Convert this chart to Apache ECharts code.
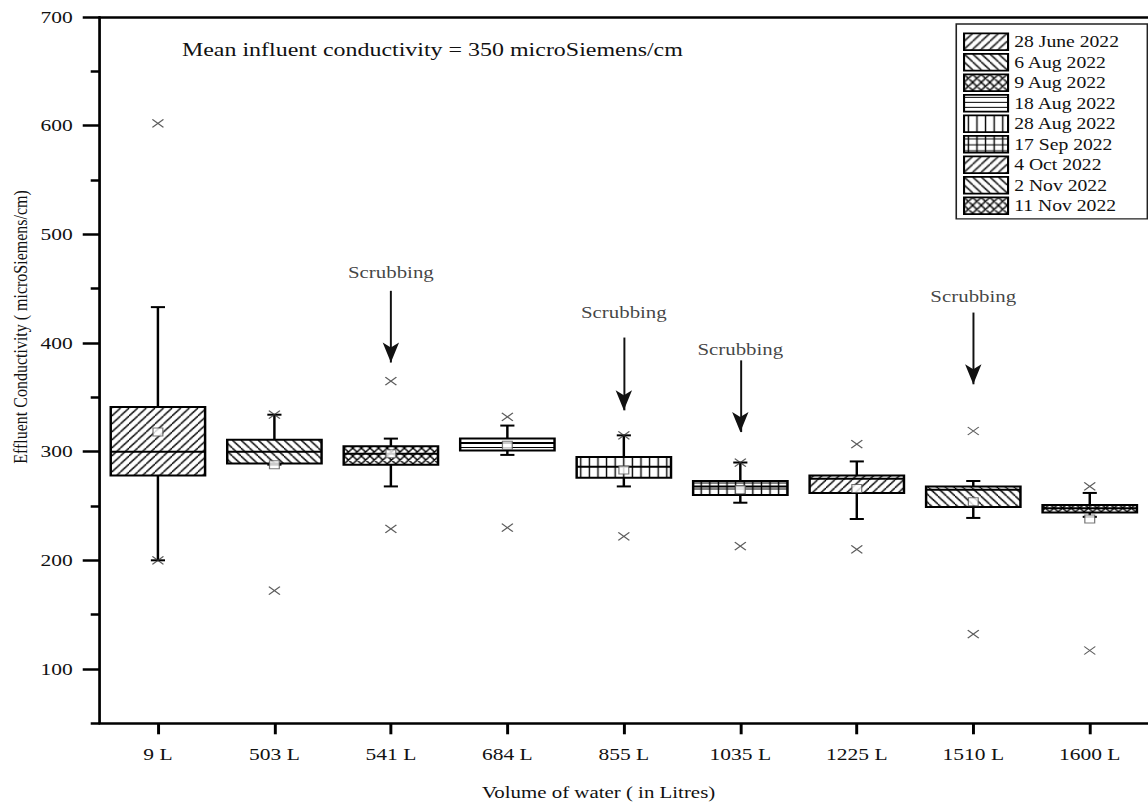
<!DOCTYPE html>
<html><head><meta charset="utf-8">
<script src="https://cdn.jsdelivr.net/npm/echarts@6/dist/echarts.min.js"></script>
<style>
html,body{margin:0;padding:0;overflow:hidden;background:#fff;}
#chart{width:934px;height:805px;transform:scaleX(1.22912);transform-origin:0 0;}
</style></head><body><div id="chart"></div>
<script>
// ---- data ----
const categories = ['9 L','503 L','541 L','684 L','855 L','1035 L','1225 L','1510 L','1600 L'];
const dates = ['28 June 2022','6 Aug 2022','9 Aug 2022','18 Aug 2022','28 Aug 2022','17 Sep 2022','4 Oct 2022','2 Nov 2022','11 Nov 2022'];
const whiskerLow  = [200, 288, 268, 297, 268, 253, 238, 239, 240];
const q1          = [278, 289, 288, 301, 276, 260, 262, 249, 244];
const median      = [300, 300, 298, 308, 286, 268, 275, 265, 248];
const q3          = [341, 311, 305, 312, 295, 273, 278, 268, 251];
const whiskerHigh = [433, 334, 312, 324, 315, 290, 291, 273, 262];
const meanValues  = [318, 288, 298, 306, 283, 265, 266, 254, 238];
const maxMarkers  = [602, 334, 365, 332, 315, 290, 307, 319, 268];
const minMarkers  = [200, 172, 229, 230, 222, 213, 210, 132, 117];
const patternKinds = ['slash','backslash','cross','horizontal','vertical','grid','slash','backslash','cross'];
const yMajorTicks = [100, 200, 300, 400, 500, 600, 700];
const yMinorTicks = [50, 150, 250, 350, 450, 550, 650];
const scrubCategories = ['541 L','855 L','1035 L','1510 L'];
const scrubArrowTop = [448, 405, 384, 428];
const scrubArrowEnd = [382, 338, 318, 362];
const scrubLabelY   = [465, 428, 394, 443];
const scrubText = 'Scrubbing';
const meanNote = 'Mean influent conductivity = 350 microSiemens/cm';
const xTitle = 'Volume of water ( in Litres)';
const yTitle = 'Effluent Conductivity ( microSiemens/cm)';

const FONT = "'Liberation Serif','Times New Roman',serif";

function makePattern(kind){
  const c = document.createElement('canvas');
  let w = 7, h = 8;
  if (kind === 'horizontal') { w = 4; h = 5; }
  if (kind === 'vertical') { w = 7; h = 4; }
  if (kind === 'grid') { w = 7; h = 6; }
  c.width = w; c.height = h;
  const g = c.getContext('2d');
  g.fillStyle = '#fff'; g.fillRect(0,0,w,h);
  g.strokeStyle = '#000'; g.lineWidth = (kind === 'horizontal' || kind === 'vertical' || kind === 'grid') ? 1 : 1.3;
  g.beginPath();
  const slash = () => { for (const o of [-w,0,w]) { g.moveTo(o, h); g.lineTo(o + w, 0); } };
  const back = () => { for (const o of [-w,0,w]) { g.moveTo(o, 0); g.lineTo(o + w, h); } };
  if (kind === 'slash') slash();
  if (kind === 'backslash') back();
  if (kind === 'cross') { slash(); back(); }
  if (kind === 'horizontal' || kind === 'grid') { g.moveTo(0, h/2); g.lineTo(w, h/2); }
  if (kind === 'vertical' || kind === 'grid') { g.moveTo(w/2, 0); g.lineTo(w/2, h); }
  g.stroke();
  return { image: c.toDataURL(), repeat: 'repeat' };
}
const patterns = patternKinds.map(makePattern);

const chart = echarts.init(document.getElementById('chart'), null, {renderer: 'svg'});

const boxData = categories.map((c, i) => [i, whiskerLow[i], q1[i], median[i], q3[i], whiskerHigh[i]]);

function renderBox(params, api){
  const i = api.value(0);
  const x = api.coord([i, api.value(3)])[0];
  const bw = api.size([1, 0])[0] * 0.81;
  const cap = 11.5;
  const yLow = api.coord([i, api.value(1)])[1];
  const yQ1 = api.coord([i, api.value(2)])[1];
  const yMed = api.coord([i, api.value(3)])[1];
  const yQ3 = api.coord([i, api.value(4)])[1];
  const yHigh = api.coord([i, api.value(5)])[1];
  const ls = {stroke: '#000', lineWidth: 2};
  return {
    type: 'group',
    children: [
      {type: 'line', shape: {x1: x, y1: yQ3, x2: x, y2: yHigh}, style: ls},
      {type: 'line', shape: {x1: x - cap/2, y1: yHigh, x2: x + cap/2, y2: yHigh}, style: ls},
      {type: 'line', shape: {x1: x, y1: yQ1, x2: x, y2: yLow}, style: ls},
      {type: 'line', shape: {x1: x - cap/2, y1: yLow, x2: x + cap/2, y2: yLow}, style: ls},
      {type: 'rect', shape: {x: x - bw/2, y: yQ3, width: bw, height: yQ1 - yQ3},
        style: {fill: patterns[params.dataIndex], stroke: '#000', lineWidth: 2}},
      {type: 'line', shape: {x1: x - bw/2, y1: yMed, x2: x + bw/2, y2: yMed}, style: ls}
    ]
  };
}

const legendSeries = dates.map((d, i) => ({
  type: 'bar', name: d, data: [],
  itemStyle: {color: patterns[i], borderColor: '#000', borderWidth: 1.6}
}));

const xMark = 'path://M0,0L10,10M10,0L0,10';

const option = {
  animation: false,
  backgroundColor: '#fff',
  grid: {left: 81.1, right: -5.3, top: 17, bottom: 81.7, containLabel: false},
  legend: {
    data: dates, orient: 'vertical', left: 778, top: 24,
    padding: [8.5, 23, 4, 5.5],
    itemWidth: 35.8, itemHeight: 16.7, itemGap: 2.1,
    icon: 'rect',
    borderColor: '#222', borderWidth: 1.3,
    selectedMode: false,
    itemStyle: {borderColor: '#000', borderWidth: 1.7},
    textStyle: {fontFamily: FONT, fontSize: 16, color: '#111', padding: [0,0,0,0]}
  },
  xAxis: [
    {type: 'category', data: categories, boundaryGap: true,
     axisLine: {show: true, lineStyle: {color: '#000', width: 2.5}},
     axisTick: {show: true, alignWithLabel: true, length: 11, lineStyle: {color: '#000', width: 2.4}},
     axisLabel: {fontFamily: FONT, fontSize: 17.5, color: '#111', margin: 22},
     splitLine: {show: false}},
    {type: 'category', data: categories, position: 'top',
     axisLine: {show: true, lineStyle: {color: '#000', width: 2.5}},
     axisTick: {show: false}, axisLabel: {show: false}, splitLine: {show: false}}
  ],
  yAxis: [
    {type: 'value', min: 50, max: 700, position: 'left',
     axisLine: {show: true, lineStyle: {color: '#000', width: 2.2}},
     axisTick: {show: true, customValues: yMajorTicks, length: 13.8, lineStyle: {color: '#000', width: 2.5}},
     axisLabel: {customValues: yMajorTicks, fontFamily: FONT, fontSize: 17.5, color: '#111', margin: 22},
     splitLine: {show: false}},
    {type: 'value', min: 50, max: 700, position: 'left',
     axisLine: {show: false},
     axisTick: {show: true, customValues: yMinorTicks, length: 7.3, lineStyle: {color: '#000', width: 2.5}},
     axisLabel: {show: false}, splitLine: {show: false}}
  ],
  graphic: [
    {type: 'text', x: 148, y: 50, style: {text: meanNote, fontFamily: FONT, fontSize: 19.5, fill: '#111', verticalAlign: 'middle', align: 'left'}},
    {type: 'text', x: 487, y: 792, style: {text: xTitle, fontFamily: FONT, fontSize: 17, fill: '#111', verticalAlign: 'middle', align: 'center'}},
    {type: 'text', x: 16.3, y: 327, rotation: Math.PI / 2, style: {text: yTitle, fontFamily: FONT, fontSize: 16, fill: '#111', verticalAlign: 'middle', align: 'center'}}
  ],
  series: [
    ...legendSeries,
    {type: 'custom', name: 'boxes', renderItem: renderBox, data: boxData,
     encode: {x: 0, y: [1, 2, 3, 4, 5]}, z: 3},
    {type: 'scatter', name: 'mean', data: categories.map((c, i) => [i, meanValues[i]]),
     symbol: 'rect', symbolSize: 8, z: 5,
     itemStyle: {color: '#fff', borderColor: '#555', borderWidth: 1}},
    {type: 'scatter', name: 'max', data: categories.map((c, i) => [i, maxMarkers[i]]),
     symbol: xMark, symbolSize: [9, 8], z: 6,
     itemStyle: {color: 'none', borderColor: '#333', borderWidth: 1.1}},
    {type: 'scatter', name: 'min', data: categories.map((c, i) => [i, minMarkers[i]]),
     symbol: xMark, symbolSize: [9, 8], z: 6,
     itemStyle: {color: 'none', borderColor: '#333', borderWidth: 1.1}},
    {type: 'scatter', name: 'scrubbing', silent: true,
     data: scrubCategories.map((c, i) => [categories.indexOf(c), scrubLabelY[i]]),
     symbolSize: 0,
     label: {show: true, position: 'inside', formatter: scrubText, fontFamily: FONT, fontSize: 17, color: '#111'},
     markLine: {
       silent: true, symbol: ['none', 'arrow'], symbolSize: [10, 20],
       lineStyle: {color: '#111', width: 1.6, type: 'solid'},
       label: {show: false},
       data: scrubCategories.map((c, i) => [
         {coord: [categories.indexOf(c), scrubArrowTop[i]]},
         {coord: [categories.indexOf(c), scrubArrowEnd[i]]}
       ])
     }}
  ]
};
chart.setOption(option);
</script>
</body></html>
